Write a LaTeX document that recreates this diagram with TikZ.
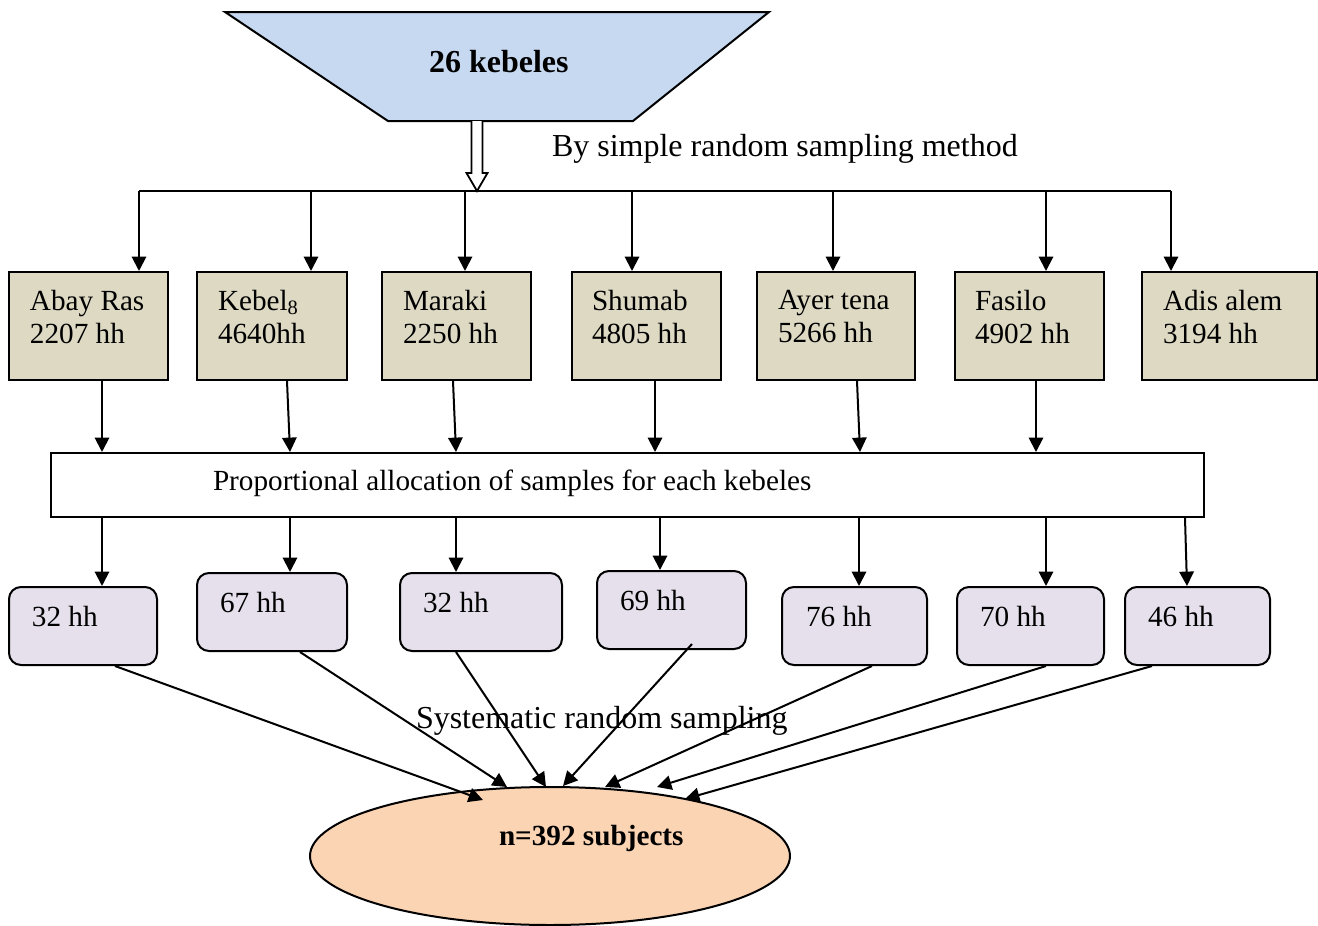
\documentclass[tikz,border=0pt]{standalone}
\usepackage{fontspec}
\setmainfont{Liberation Serif}
\usetikzlibrary{arrows.meta,shapes.geometric,fit,calc}
\definecolor{kebfill}{HTML}{C6D9F1}
\definecolor{sitefill}{HTML}{DDD9C3}
\definecolor{hhfill}{HTML}{E5E0EC}
\definecolor{subjfill}{HTML}{FBD4B4}
\newcommand\boxfont{\fontsize{14.6pt}{16.5pt}\selectfont}
\newcommand\labfont{\fontsize{16pt}{19pt}\selectfont}
\begin{document}
\begin{tikzpicture}[x=0.5pt,y=-0.5pt,line width=1pt,
  arr/.style={-{Triangle[length=7.2pt,width=7.2pt]}},
  sitebox/.style={draw,fill=sitefill,inner sep=0pt},
  hhbox/.style={draw,fill=hhfill,rounded corners=6pt,inner sep=0pt},
  boxtext/.style={inner sep=0pt,align=left,font=\boxfont,anchor=north west},
  hhtext/.style={inner sep=0pt,font=\boxfont,anchor=base west},
  lab/.style={inner sep=0pt,font=\labfont,anchor=base west}]
\useasboundingbox (0,0) rectangle (1318,926);

% source population
\filldraw[fill=kebfill] (225,12) -- (769,12) -- (633,121) -- (388,121) -- cycle;
\node[lab,font=\labfont\bfseries] (keb) at (428,72) {26 kebeles};
\coordinate (kbot) at (477,121);

% distribution bus
\coordinate (busL) at (139,191);
\coordinate (busR) at (1171,191);
\draw (busL) -- (busR);

% hollow arrow into the bus
\draw[fill=white,line width=0.9pt]
  ($(kbot)+(-5.5,0)$) -- ($(kbot)+(-5.5,52)$) -- ($(kbot)+(-10.5,52)$)
  -- (kbot |- busL) -- ($(kbot)+(10.5,52)$) -- ($(kbot)+(5.5,52)$)
  -- ($(kbot)+(5.5,0)$);
\node[lab] (srs) at (551,156.5) {By simple random sampling method};

% selected kebeles
\node[sitebox,fit={(9,272) (168,380)}] (b1) {};
\node[sitebox,fit={(197,272) (347,380)}] (b2) {};
\node[sitebox,fit={(382,272) (531,380)}] (b3) {};
\node[sitebox,fit={(572,272) (721,380)}] (b4) {};
\node[sitebox,fit={(757,272) (915,380)}] (b5) {};
\node[sitebox,fit={(955,272) (1104,380)}] (b6) {};
\node[sitebox,fit={(1142,272) (1317,380)}] (b7) {};
\node[boxtext] (t1) at ($(b1.north west)+(21,18)$) {Abay Ras\\2207 hh};
\node[boxtext] (t2) at ($(b2.north west)+(21,18)$) {Kebel\textsubscript{8}\\4640hh};
\node[boxtext] (t3) at ($(b3.north west)+(21,18)$) {Maraki\\2250 hh};
\node[boxtext] (t4) at ($(b4.north west)+(20,18)$) {Shumab\\4805 hh};
\node[boxtext] (t5) at ($(b5.north west)+(21,18)$) {Ayer tena\\5266 hh};
\node[boxtext] (t6) at ($(b6.north west)+(20,18)$) {Fasilo\\4902 hh};
\node[boxtext] (t7) at ($(b7.north west)+(21,18)$) {Adis alem\\3194 hh};

\foreach \x/\b in {139/b1,311/b2,465/b3,632/b4,833/b5,1046/b6,1171/b7}
  \draw[arr] (\x,0 |- busL) -- (\x,0 |- \b.north);

% proportional allocation
\node[draw,inner sep=0pt,fit={(51,453) (1204,517)}] (prop) {};
\node[hhtext] (proptext) at (212,490) {Proportional allocation of samples for each kebeles};

\draw[arr] (102,0 |- b1.south) -- (102,0 |- prop.north);
\draw[arr] (287,0 |- b2.south) -- (290,0 |- prop.north);
\draw[arr] (453,0 |- b3.south) -- (456,0 |- prop.north);
\draw[arr] (655,0 |- b4.south) -- (655,0 |- prop.north);
\draw[arr] (857,0 |- b5.south) -- (860,0 |- prop.north);
\draw[arr] (1036,0 |- b6.south) -- (1036,0 |- prop.north);

% household samples per kebele
\node[hhbox,fit={(9,587) (157,665)}] (c1) {};
\node[hhbox,fit={(197,573) (347,651)}] (c2) {};
\node[hhbox,fit={(400,573) (562,651)}] (c3) {};
\node[hhbox,fit={(597,571) (746,649)}] (c4) {};
\node[hhbox,fit={(782,587) (927,665)}] (c5) {};
\node[hhbox,fit={(957,587) (1104,665)}] (c6) {};
\node[hhbox,fit={(1125,587) (1270,665)}] (c7) {};
\node[hhtext] (h1) at ($(c1.north west)+(23,40)$) {32 hh};
\node[hhtext] (h2) at ($(c2.north west)+(23,40)$) {67 hh};
\node[hhtext] (h3) at ($(c3.north west)+(23,40)$) {32 hh};
\node[hhtext] (h4) at ($(c4.north west)+(23,40)$) {69 hh};
\node[hhtext] (h5) at ($(c5.north west)+(24,40)$) {76 hh};
\node[hhtext] (h6) at ($(c6.north west)+(23,40)$) {70 hh};
\node[hhtext] (h7) at ($(c7.north west)+(23,40)$) {46 hh};

\draw[arr] (102,0 |- prop.south) -- (102,0 |- c1.north);
\draw[arr] (290,0 |- prop.south) -- (290,0 |- c2.north);
\draw[arr] (456,0 |- prop.south) -- (456,0 |- c3.north);
\draw[arr] (660,0 |- prop.south) -- (660,0 |- c4.north);
\draw[arr] (859,0 |- prop.south) -- (859,0 |- c5.north);
\draw[arr] (1046,0 |- prop.south) -- (1046,0 |- c6.north);
\draw[arr] (1185,0 |- prop.south) -- (1187,0 |- c7.north);

% final sample
\node[ellipse,draw,fill=subjfill,inner sep=0pt,minimum width=240pt,minimum height=69pt] (subj) at (550,856) {};
\node[lab,font=\boxfont\bfseries] (subjtext) at (498,845) {n=392 subjects};

\draw[arr] (115,0 |- c1.south) -- ($(subj.center)+(-67,-56)$);
\draw[arr] (300,0 |- c2.south) -- ($(subj.center)+(-43,-69)$);
\draw[arr] (456,0 |- c3.south) -- ($(subj.center)+(-4,-69)$);
\draw[arr] ($(692,0 |- c4.south)+(0,-6)$) -- ($(subj.center)+(13,-70)$);
\draw[arr] (872,0 |- c5.south) -- ($(subj.center)+(55,-69)$);
\draw[arr] (1046,0 |- c6.south) -- ($(subj.center)+(107,-69)$);
\draw[arr] (1152,0 |- c7.south) -- ($(subj.center)+(135,-57)$);

\node[lab] (sys) at (415,728) {Systematic random sampling};
\end{tikzpicture}
\end{document}
